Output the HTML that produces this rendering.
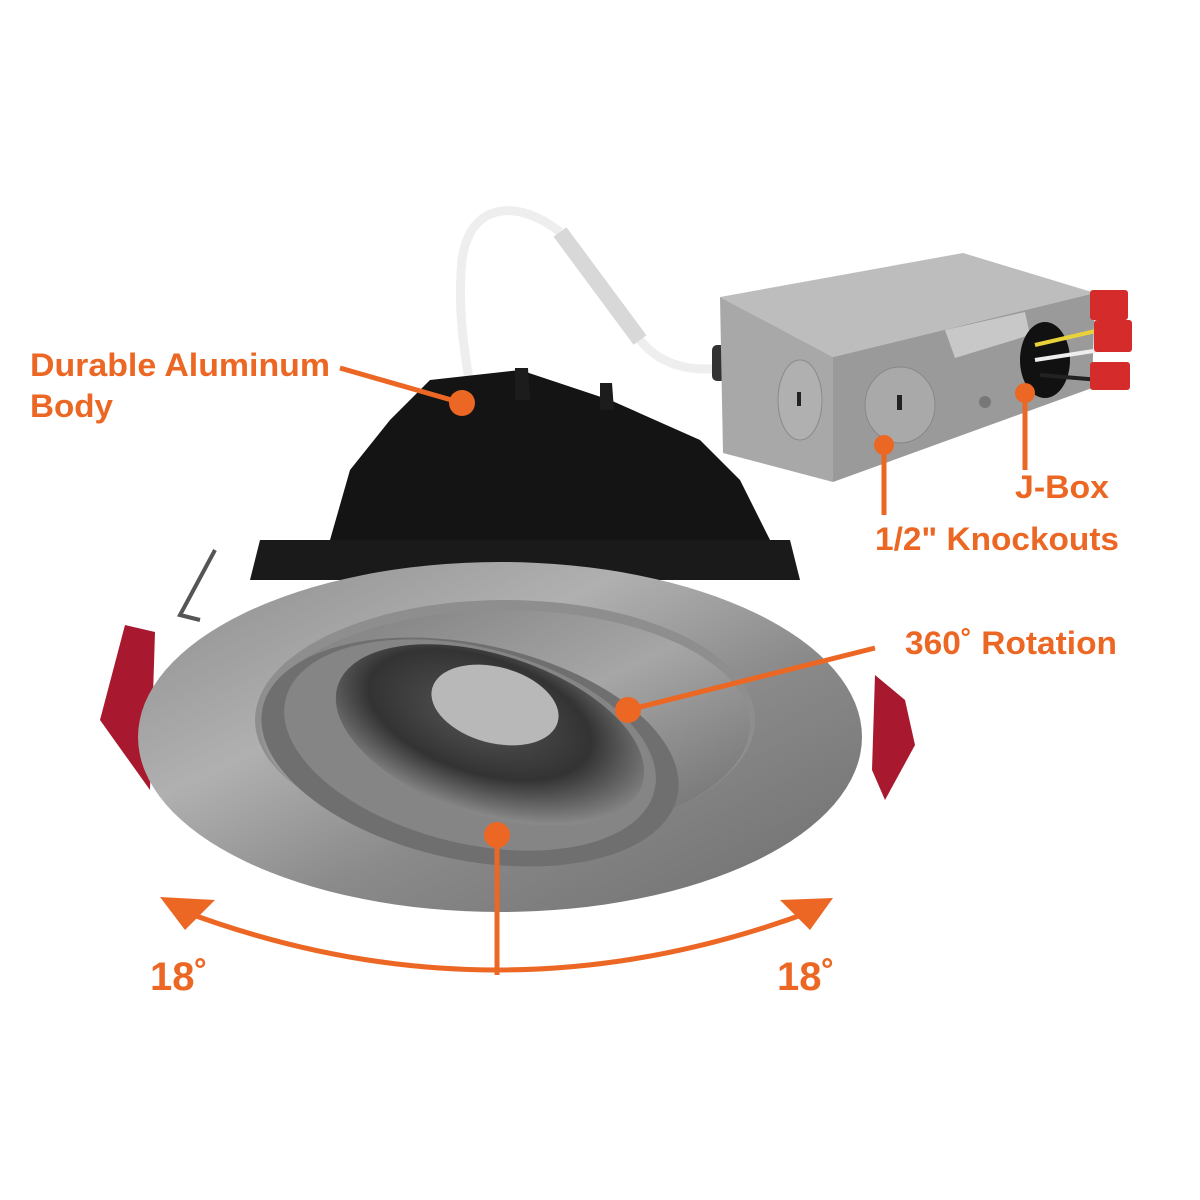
<!DOCTYPE html>
<html><head><meta charset="utf-8"><style>
html,body{margin:0;padding:0;background:#fff;}
svg{display:block}
text{font-family:"Liberation Sans",sans-serif;font-weight:bold;fill:#ec6724}
</style></head><body>
<svg width="1200" height="1200" viewBox="0 0 1200 1200">
<defs>
<linearGradient id="trim" x1="0" y1="0" x2="1" y2="1">
<stop offset="0" stop-color="#8c8c8c"/><stop offset="0.35" stop-color="#b0b0b0"/><stop offset="0.6" stop-color="#8a8a8a"/><stop offset="1" stop-color="#6e6e6e"/></linearGradient>
<linearGradient id="inner" x1="0" y1="0" x2="1" y2="1">
<stop offset="0" stop-color="#7a7a7a"/><stop offset="0.5" stop-color="#a6a6a6"/><stop offset="1" stop-color="#6a6a6a"/></linearGradient>
<radialGradient id="lens" cx="0.45" cy="0.4" r="0.6">
<stop offset="0" stop-color="#555"/><stop offset="0.6" stop-color="#333"/><stop offset="1" stop-color="#888"/></radialGradient>
</defs>
<path d="M560 232 C520 200 470 200 462 260 C458 300 462 340 470 385" fill="none" stroke="#eee" stroke-width="9"/>
<path d="M560 232 L600 290 L640 340 C660 365 690 372 722 368" fill="none" stroke="#eee" stroke-width="9"/>
<path d="M560 232 L640 340" fill="none" stroke="#d8d8d8" stroke-width="16"/>
<rect x="712" y="345" width="28" height="36" fill="#333" rx="5"/>
<polygon points="720,297 963,253 1095,293 833,357" fill="#bdbdbd"/>
<polygon points="720,297 833,357 833,482 723,453" fill="#a8a8a8"/>
<polygon points="833,357 1095,293 1092,388 833,482" fill="#9a9a9a"/>
<ellipse cx="800" cy="400" rx="22" ry="40" fill="#b0b0b0" stroke="#8a8a8a"/>
<ellipse cx="900" cy="405" rx="35" ry="38" fill="#a9a9a9" stroke="#888"/>
<rect x="797" y="392" width="4" height="14" fill="#222"/>
<rect x="897" y="395" width="5" height="15" fill="#222"/>
<polygon points="945,330 1025,312 1030,335 955,358" fill="#c8c8c8"/>
<ellipse cx="1045" cy="360" rx="25" ry="38" fill="#111"/>
<path d="M1035 345 L1100 330" stroke="#e8d23a" stroke-width="4"/>
<path d="M1035 360 L1100 350" stroke="#eee" stroke-width="4"/>
<path d="M1040 375 L1100 380" stroke="#222" stroke-width="4"/>
<circle cx="985" cy="402" r="6" fill="#777"/>
<g fill="#d62b2b"><rect x="1090" y="290" width="38" height="30" rx="3"/><rect x="1094" y="320" width="38" height="32" rx="3"/><rect x="1090" y="362" width="40" height="28" rx="3"/></g>
<polygon points="430,380 520,370 610,400 700,440 740,480 770,540 330,540 350,470 390,420" fill="#141414"/>
<polygon points="515,368 528,368 530,400 515,400" fill="#1c1c1c"/>
<polygon points="600,383 612,383 614,410 600,410" fill="#1c1c1c"/>
<polygon points="260,540 790,540 800,580 250,580" fill="#1a1a1a"/>
<path d="M215 550 L180 615 L200 620" fill="none" stroke="#555" stroke-width="4"/>
<polygon points="125,625 155,632 150,790 100,720" fill="#a8182e"/>
<polygon points="875,675 905,700 915,745 885,800 872,770" fill="#a8182e"/>
<ellipse cx="500" cy="737" rx="362" ry="175" fill="url(#trim)"/>
<ellipse cx="505" cy="720" rx="250" ry="120" fill="#8e8e8e"/>
<ellipse cx="505" cy="725" rx="245" ry="115" fill="url(#inner)"/>
<ellipse cx="470" cy="752" rx="212" ry="108" transform="rotate(12 470 752)" fill="#6f6f6f"/>
<ellipse cx="470" cy="745" rx="190" ry="98" transform="rotate(14 470 745)" fill="#858585"/>
<ellipse cx="490" cy="735" rx="160" ry="80" transform="rotate(18 490 735)" fill="url(#lens)"/>
<ellipse cx="495" cy="705" rx="65" ry="38" transform="rotate(15 495 705)" fill="#b8b8b8"/>
<g stroke="#ec6724" stroke-width="5" fill="none">
<line x1="340" y1="368" x2="462" y2="403"/>
<line x1="1025" y1="393" x2="1025" y2="470"/>
<line x1="884" y1="445" x2="884" y2="515"/>
<line x1="875" y1="648" x2="628" y2="710"/>
<line x1="497" y1="835" x2="497" y2="975"/>
<path d="M180 910 Q497 1030 815 910"/>
</g>
<g fill="#ec6724">
<circle cx="462" cy="403" r="13"/><circle cx="1025" cy="393" r="10"/><circle cx="884" cy="445" r="10"/>
<circle cx="628" cy="710" r="13"/><circle cx="497" cy="835" r="13"/>
<polygon points="160,897 215,900 185,930"/>
<polygon points="833,898 780,900 810,930"/>
</g>
<text x="30" y="376" font-size="32" textLength="300" lengthAdjust="spacingAndGlyphs">Durable Aluminum</text>
<text x="30" y="417" font-size="32" textLength="83" lengthAdjust="spacingAndGlyphs">Body</text>
<text x="1015" y="498" font-size="32" textLength="94" lengthAdjust="spacingAndGlyphs">J-Box</text>
<text x="875" y="550" font-size="32" textLength="244" lengthAdjust="spacingAndGlyphs">1/2" Knockouts</text>
<text x="905" y="654" font-size="32" textLength="212" lengthAdjust="spacingAndGlyphs">360˚ Rotation</text>
<text x="150" y="990" font-size="40">18˚</text>
<text x="777" y="990" font-size="40">18˚</text>
</svg>
</body></html>
